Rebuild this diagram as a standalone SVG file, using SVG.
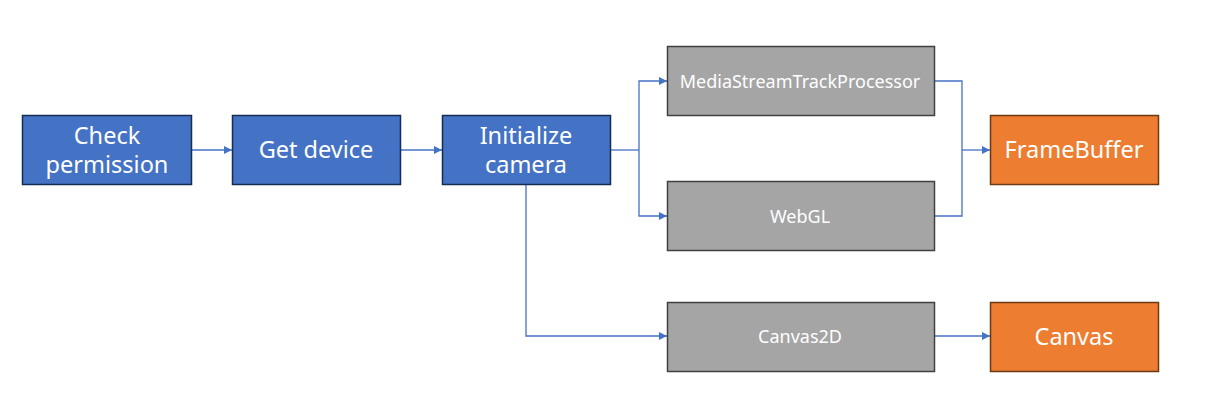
<svg xmlns="http://www.w3.org/2000/svg" width="1209" height="400" viewBox="0 0 1209 400">
<defs>
<marker id="arr" viewBox="0 0 10 10" refX="10" refY="5" markerWidth="8" markerHeight="8" markerUnits="userSpaceOnUse" orient="auto">
<path d="M0,0 L10,5 L0,10 z" fill="#4472C4"/>
</marker>
<style>
.blue{fill:#4472C4;stroke:#172C51;stroke-width:1.5}
.gray{fill:#A5A5A5;stroke:#404040;stroke-width:1.5}
.orange{fill:#ED7D31;stroke:#6B3A12;stroke-width:1.5}
.t{font-family:"Noto Sans","Noto Sans CJK KR",sans-serif;fill:#FFFFFF;text-anchor:middle}
.big{font-size:23.5px}
.small{font-size:18px}
.c{fill:none;stroke:#4472C4;stroke-width:1.3}
</style>
</defs>
<rect width="1209" height="400" fill="#FFFFFF"/>
<g id="connectors">
<path class="c" d="M191,150 H232" marker-end="url(#arr)"/>
<path class="c" d="M400,150 H442" marker-end="url(#arr)"/>
<path class="c" d="M610,150 H639"/>
<path class="c" d="M639,150 V81 H667" marker-end="url(#arr)"/>
<path class="c" d="M639,150 V216 H667" marker-end="url(#arr)"/>
<path class="c" d="M526,184 V336 H667" marker-end="url(#arr)"/>
<path class="c" d="M934,81 H962 V150"/>
<path class="c" d="M934,216 H962 V150"/>
<path class="c" d="M962,150 H990" marker-end="url(#arr)"/>
<path class="c" d="M934,336 H990" marker-end="url(#arr)"/>
</g>
<g id="check-permission">
<rect class="blue" x="22.5" y="115.5" width="169" height="69"/>
<text class="t big" x="107" y="143"><tspan x="107" y="143.5">Check</tspan><tspan x="107" y="172.5">permission</tspan></text>
</g>
<g id="get-device">
<rect class="blue" x="232.5" y="115.5" width="168" height="69"/>
<text class="t big" x="316" y="158">Get device</text>
</g>
<g id="initialize-camera">
<rect class="blue" x="442.5" y="115.5" width="168" height="69"/>
<text class="t big" x="526" y="143"><tspan x="526" y="143.5">Initialize</tspan><tspan x="526" y="172.5">camera</tspan></text>
</g>
<g id="mediastreamtrackprocessor">
<rect class="gray" x="667.5" y="46.5" width="267" height="69"/>
<text class="t small" x="800" y="87.5">MediaStreamTrackProcessor</text>
</g>
<g id="webgl">
<rect class="gray" x="667.5" y="181.5" width="267" height="69"/>
<text class="t small" x="800" y="222.5">WebGL</text>
</g>
<g id="canvas2d">
<rect class="gray" x="667.5" y="302.5" width="267" height="69"/>
<text class="t small" x="800" y="343">Canvas2D</text>
</g>
<g id="framebuffer">
<rect class="orange" x="990.5" y="115.5" width="168" height="69"/>
<text class="t big" x="1074" y="158">FrameBuffer</text>
</g>
<g id="canvas">
<rect class="orange" x="990.5" y="302.5" width="168" height="69"/>
<text class="t big" x="1074" y="345">Canvas</text>
</g>
</svg>
